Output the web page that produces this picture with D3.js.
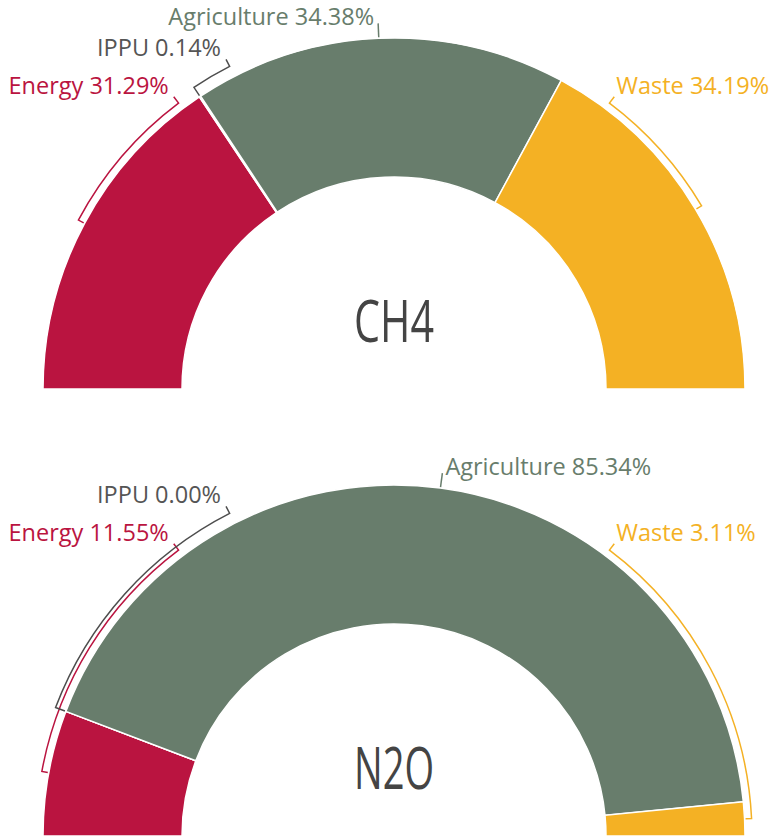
<!DOCTYPE html>
<html>
<head>
<meta charset="utf-8">
<script src="https://cdn.jsdelivr.net/npm/d3@7"></script>
<style>
  body { margin: 0; background: #fff; }
  svg { display: block; }
  text { font-family: "Open Sans", "Noto Sans", sans-serif; }
</style>
</head>
<body>
<div id="chart"></div>
<script>
var gases = ["CH4", "N2O"];
var sectors = ["Energy", "IPPU", "Agriculture", "Waste"];
var ch4Shares = [31.29, 0.14, 34.38, 34.19];
var n2oShares = [11.55, 0.00, 85.34, 3.11];
var colors = ["#ba1440", "#4d4d4d", "#687d6c", "#f4b124"];
var textColors = ["#ba1440", "#555555", "#687d6c", "#f4b124"];

var width = 773, height = 836;
var outerR = 351, innerR = 212;
var cx = 394;
var centersY = [389, 836];

// where the labels sit (degrees, clockwise from top); agriculture follows its slice
var labelAngle = { "Energy": -37, "IPPU": -27, "Waste": 37 };
var bracketGap = { "Energy": 7, "IPPU": 11, "Agriculture": 0, "Waste": 7 };

var rad = Math.PI / 180;
function pt(a, r) { return [r * Math.sin(a), -r * Math.cos(a)]; }

var svg = d3.select("#chart").append("svg")
    .attr("width", width)
    .attr("height", height);

var pie = d3.pie()
    .sort(null)
    .value(function(d) { return d.value; })
    .startAngle(-Math.PI / 2)
    .endAngle(Math.PI / 2);

var arc = d3.arc()
    .innerRadius(innerR)
    .outerRadius(outerR);

[ch4Shares, n2oShares].forEach(function(shares, gi) {
  var data = sectors.map(function(s, i) { return { name: s, value: shares[i], idx: i }; });
  var arcs = pie(data);

  var g = svg.append("g")
      .attr("transform", "translate(" + cx + "," + centersY[gi] + ")");

  g.selectAll(".slice")
      .data(arcs)
    .enter().append("path")
      .attr("class", "slice")
      .attr("d", arc)
      .attr("fill", function(d) { return colors[d.data.idx]; })
      .attr("stroke", "#fff")
      .attr("stroke-width", 1.5);

  g.append("text")
      .attr("x", 0)
      .attr("y", -47)
      .attr("text-anchor", "middle")
      .attr("font-size", 58)
      .attr("font-weight", 400)
      .attr("textLength", 80)
      .attr("lengthAdjust", "spacingAndGlyphs")
      .attr("fill", "#444")
      .text(gases[gi]);

  arcs.forEach(function(d) {
    var name = d.data.name;
    var col = colors[d.data.idx];
    var mid = (d.startAngle + d.endAngle) / 2;
    var label = name + " " + d3.format(".2f")(d.data.value) + "%";
    var p = d3.path();
    var lx, ly, anchor;

    if (name === "Agriculture") {
      var a0 = pt(mid, outerR + 1), a1 = pt(mid, outerR + 15);
      p.moveTo(a0[0], a0[1]);
      p.lineTo(a1[0], a1[1]);
      anchor = mid < 0 ? "end" : "start";
      lx = a1[0] + (mid < 0 ? -4 : 3);
      ly = a1[1] + 2;
    } else {
      var la = labelAngle[name] * rad;
      var rb = outerR + bracketGap[name];
      var s0 = pt(mid, outerR + 1), s1 = pt(mid, rb);
      var e1 = pt(la, rb + 8);
      p.moveTo(s0[0], s0[1]);
      p.lineTo(s1[0], s1[1]);
      p.arc(0, 0, rb, mid - Math.PI / 2, la - Math.PI / 2, la < mid);
      p.lineTo(e1[0], e1[1]);
      anchor = la < 0 ? "end" : "start";
      lx = e1[0] + (la < 0 ? -5 : 2);
      ly = e1[1] - 3;
    }

    g.append("path")
        .attr("d", p.toString())
        .attr("fill", "none")
        .attr("stroke", col)
        .attr("stroke-width", 1.5);

    g.append("text")
        .attr("x", lx)
        .attr("y", ly)
        .attr("text-anchor", anchor)
        .attr("font-size", 23.5)
        .attr("fill", textColors[d.data.idx])
        .text(label);
  });
});
</script>
</body>
</html>
